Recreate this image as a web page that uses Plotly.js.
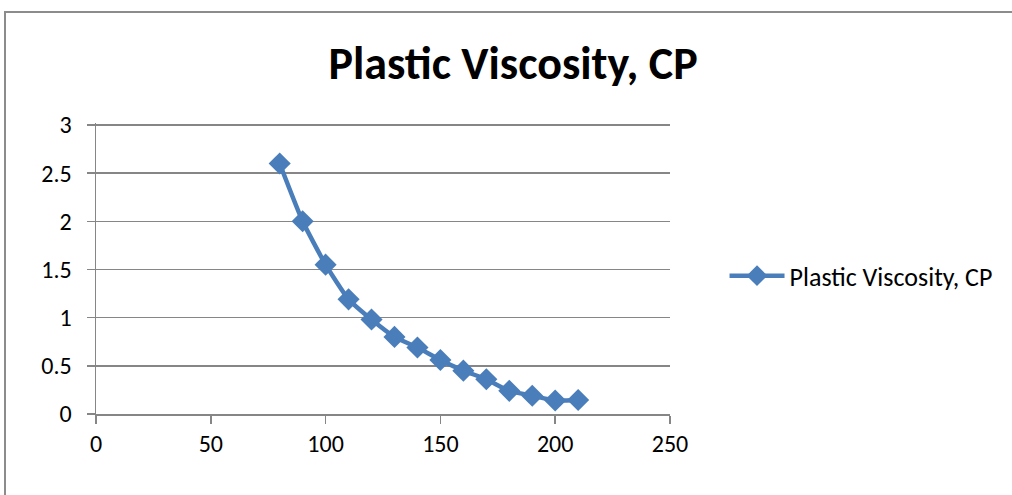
<!DOCTYPE html>
<html><head><meta charset="utf-8">
<script src="https://cdn.plot.ly/plotly-3.0.1.min.js"></script>
<style>html,body{margin:0;padding:0;background:#fff;overflow:hidden}
#frame{position:absolute;left:4px;top:11px;width:1100px;height:600px;border-left:2px solid #8c8c8c;border-top:2px solid #8c8c8c;pointer-events:none}
</style></head>
<body><div id="chart" style="width:1012px;height:495px"></div><div id="frame"></div>
<script>
const chartTitle = "Plastic Viscosity, CP";
const seriesName = "Plastic Viscosity, CP";
const xValues = [80, 90, 100, 110, 120, 130, 140, 150, 160, 170, 180, 190, 200, 210];
const yValues = [2.6, 2.0, 1.55, 1.19, 0.98, 0.8, 0.69, 0.56, 0.45, 0.36, 0.24, 0.19, 0.14, 0.145];
const xTicks = [0, 50, 100, 150, 200, 250];
const yTicks = [0, 0.5, 1, 1.5, 2, 2.5, 3];

const font = "Carlito, Lato, sans-serif";
Plotly.newPlot('chart', [{
  x: xValues, y: yValues, name: seriesName, type: 'scatter', mode: 'lines+markers',
  line: {color: '#4A7EBB', width: 4.5, shape: 'spline', smoothing: 0.5},
  marker: {symbol: 'diamond', size: 17, color: '#4A7EBB'}
}], {
  width: 1012, height: 495,
  margin: {l: 96, r: 342, t: 123, b: 81},
  paper_bgcolor: '#fff', plot_bgcolor: '#fff',
  font: {family: font, size: 24, color: '#000'},
  title: {text: '<b>' + chartTitle + '</b>', font: {family: font, size: 46, color: '#000'}, x: 0.507, xanchor: 'center', y: 0.872, yanchor: 'middle'},
  xaxis: {range: [0, 250], tickvals: xTicks, ticktext: xTicks.map(String), showgrid: false, zeroline: false,
    showline: true, linecolor: '#868686', linewidth: 1.5, ticks: 'outside', ticklen: 8, tickcolor: '#868686', tickwidth: 1.5,
    tickfont: {size: 24}, fixedrange: true},
  yaxis: {range: [0, 3.02], tickvals: yTicks, ticktext: yTicks.map(String), showgrid: true, gridcolor: '#868686', gridwidth: 1.5, zeroline: false,
    showline: true, linecolor: '#868686', linewidth: 1.5, ticks: 'outside', ticklen: 8, tickcolor: '#868686', tickwidth: 1.5,
    ticklabelstandoff: 10, tickfont: {size: 24}, fixedrange: true},
  showlegend: true,
  legend: {x: 1.095, xanchor: 'left', y: 0.475, yanchor: 'middle', font: {size: 26}, itemwidth: 55, bgcolor: 'rgba(0,0,0,0)'}
}, {displayModeBar: false, staticPlot: true});
</script></body></html>
